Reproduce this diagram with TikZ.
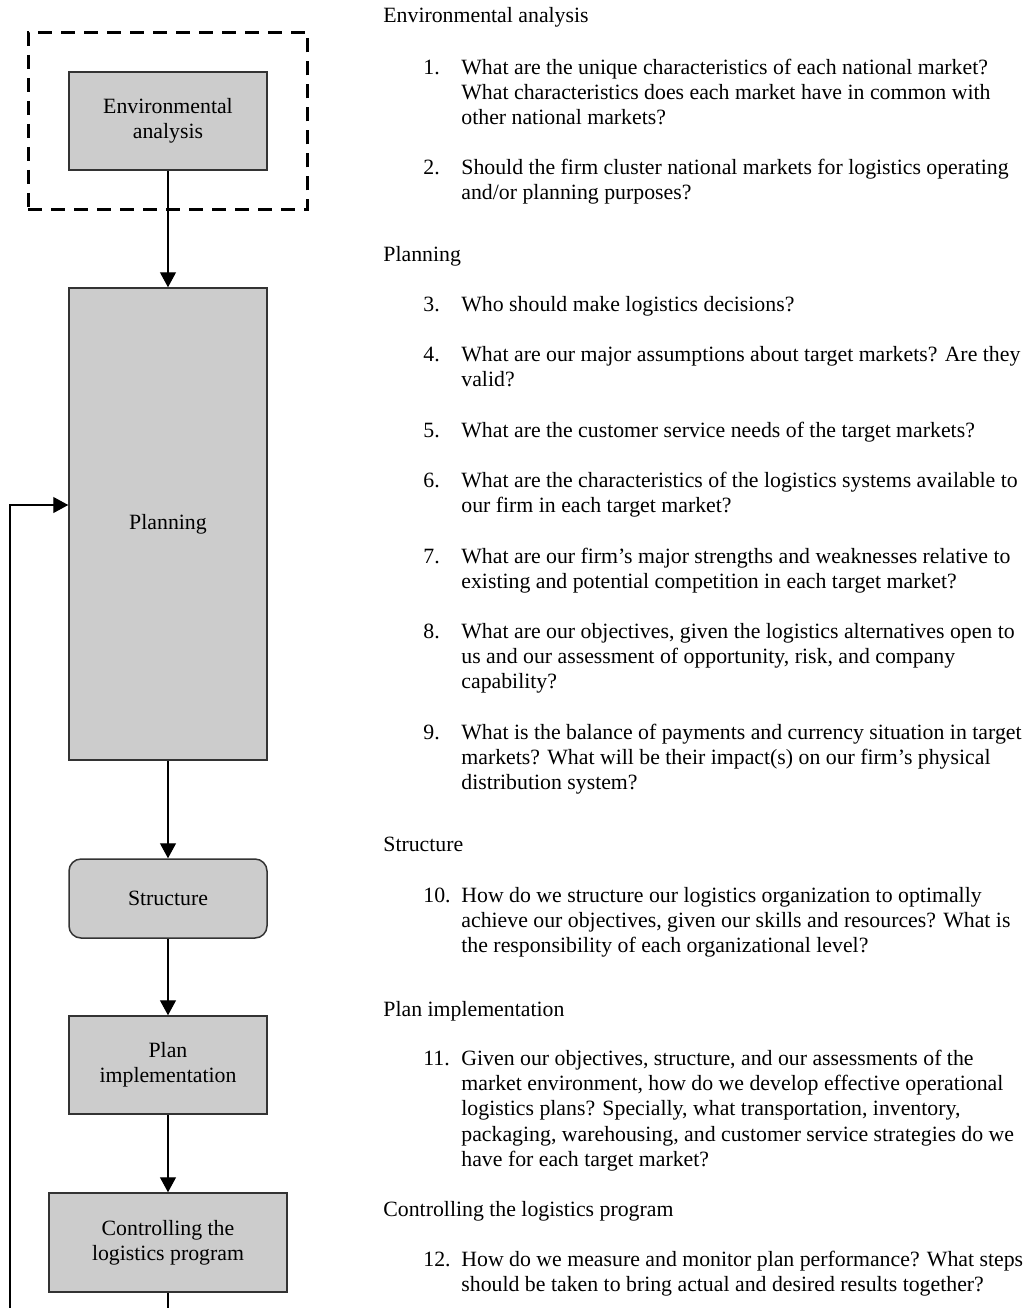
\documentclass[tikz,border=0pt]{standalone}
\usepackage{fontspec}
\setmainfont{Liberation Serif}
\usetikzlibrary{arrows.meta, positioning, fit}
\definecolor{boxfill}{HTML}{CCCCCC}
\definecolor{boxline}{HTML}{333333}
\newcommand{\qlines}[1]{\begin{tabular}[t]{@{}l@{}}#1\end{tabular}}

\tikzset{
  stage/.style={draw=boxline, fill=boxfill, line width=0.75pt, align=center,
    minimum width=99pt, minimum height=49pt, inner sep=2pt},
  flow/.style={draw=black, line width=0.6pt, -{Triangle[length=7.5pt,width=8pt]}},
  heading/.style={anchor=base west, inner sep=0pt},
  qnum/.style={anchor=base west, inner sep=0pt},
  qtext/.style={anchor=base west, inner sep=0pt}
}

\begin{document}
\begin{tikzpicture}[x=0.5pt, y=-0.5pt, font=\fontsize{10.9}{12.7}\selectfont]
  \useasboundingbox (0,0) rectangle (1031,1308);
  % Flow of stages
  \node[stage] (env) at (168,121) {Environmental\\analysis};
  \node[draw, line width=1.5pt, dash pattern=on 7pt off 4.5pt, fit=(env),
    inner xsep=20pt, inner ysep=19.5pt] (envframe) {};
  \node[stage, minimum height=236pt] (plan) at (168,524) {Planning};
  \node[stage, rounded corners=6pt, minimum height=39.5pt] (struct) at (168,898.5) {Structure};
  \node[stage] (impl) at (168,1065) {Plan\\implementation};
  \node[stage, minimum width=119pt, minimum height=49.5pt] (ctrl) at (168,1242.5) {Controlling the\\logistics program};
  \coordinate (loopcorner) at (10,1308);
  \draw[flow] (env) -- (plan);
  \draw[flow] (plan) -- (struct);
  \draw[flow] (struct) -- (impl);
  \draw[flow] (impl) -- (ctrl);
  % Feedback loop
  \draw[line width=0.6pt] (ctrl.south) -- (ctrl.south |- loopcorner);
  \draw[flow] (loopcorner) |- ([yshift=9.5pt]plan.west);
  % Questions
  \coordinate (qx) at (461,0);
  \node[heading] (hEnv) at (383,22) {Environmental analysis};
  \node[qnum] (n1) at (423,74) {1.};
  \node[qtext] (q1) at (n1.base -| qx) {\qlines{What are the unique characteristics of each national market?\\What characteristics does each market have in common with\\other national markets?}};
  \node[qnum] (n2) at (423,174) {2.};
  \node[qtext] (q2) at (n2.base -| qx) {\qlines{Should the firm cluster national markets for logistics operating\\and/or planning purposes?}};
  \node[heading] (hPlan) at (383,261) {Planning};
  \node[qnum] (n3) at (423,311) {3.};
  \node[qtext] (q3) at (n3.base -| qx) {\qlines{Who should make logistics decisions?}};
  \node[qnum] (n4) at (423,361) {4.};
  \node[qtext] (q4) at (n4.base -| qx) {\qlines{What are our major assumptions about target markets? Are they\\valid?}};
  \node[qnum] (n5) at (423,437) {5.};
  \node[qtext] (q5) at (n5.base -| qx) {\qlines{What are the customer service needs of the target markets?}};
  \node[qnum] (n6) at (423,487) {6.};
  \node[qtext] (q6) at (n6.base -| qx) {\qlines{What are the characteristics of the logistics systems available to\\our firm in each target market?}};
  \node[qnum] (n7) at (423,563) {7.};
  \node[qtext] (q7) at (n7.base -| qx) {\qlines{What are our firm’s major strengths and weaknesses relative to\\existing and potential competition in each target market?}};
  \node[qnum] (n8) at (423,638) {8.};
  \node[qtext] (q8) at (n8.base -| qx) {\qlines{What are our objectives, given the logistics alternatives open to\\us and our assessment of opportunity, risk, and company\\capability?}};
  \node[qnum] (n9) at (423,739) {9.};
  \node[qtext] (q9) at (n9.base -| qx) {\qlines{What is the balance of payments and currency situation in target\\markets? What will be their impact(s) on our firm’s physical\\distribution system?}};
  \node[heading] (hStruct) at (383,851) {Structure};
  \node[qnum] (n10) at (423,902) {10.};
  \node[qtext] (q10) at (n10.base -| qx) {\qlines{How do we structure our logistics organization to optimally\\achieve our objectives, given our skills and resources? What is\\the responsibility of each organizational level?}};
  \node[heading] (hImpl) at (383,1016) {Plan implementation};
  \node[qnum] (n11) at (423,1065) {11.};
  \node[qtext] (q11) at (n11.base -| qx) {\qlines{Given our objectives, structure, and our assessments of the\\market environment, how do we develop effective operational\\logistics plans? Specially, what transportation, inventory,\\packaging, warehousing, and customer service strategies do we\\have for each target market?}};
  \node[heading] (hCtrl) at (383,1216) {Controlling the logistics program};
  \node[qnum] (n12) at (423,1266) {12.};
  \node[qtext] (q12) at (n12.base -| qx) {\qlines{How do we measure and monitor plan performance? What steps\\should be taken to bring actual and desired results together?}};
\end{tikzpicture}
\end{document}
